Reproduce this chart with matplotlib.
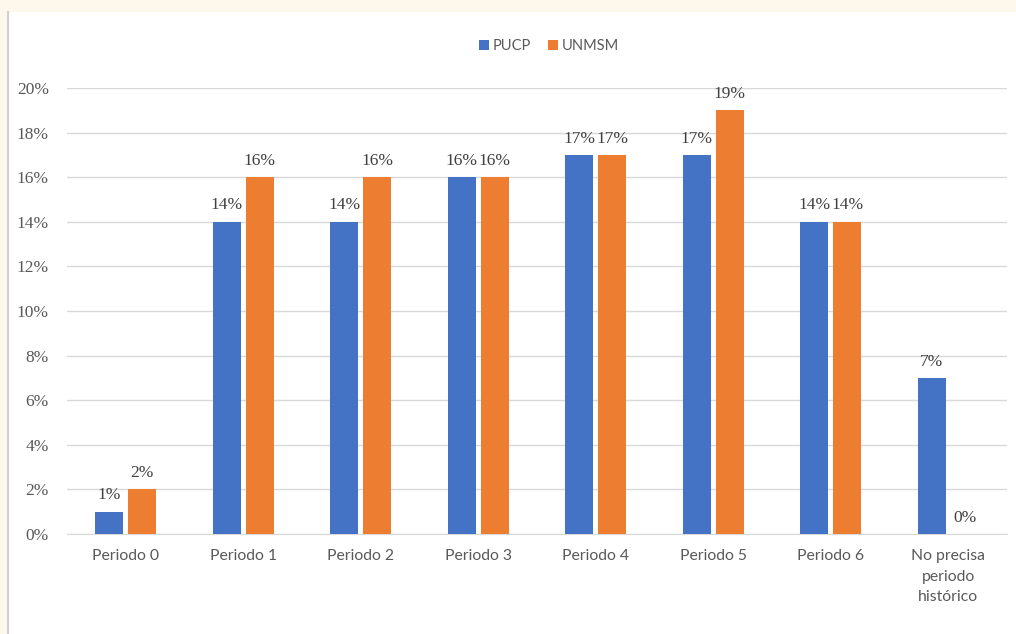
import numpy as np
import matplotlib.pyplot as plt
from matplotlib.patches import Rectangle
from matplotlib.lines import Line2D

# Data
categories = ["Periodo 0", "Periodo 1", "Periodo 2", "Periodo 3", "Periodo 4",
              "Periodo 5", "Periodo 6", "No precisa\nperiodo\nhistórico"]
pucp = [1, 14, 14, 16, 17, 17, 14, 7]
unmsm = [2, 16, 16, 16, 17, 19, 14, 0]
series_names = ["PUCP", "UNMSM"]
colors = ["#4472C4", "#ED7D31"]

fig = plt.figure(figsize=(10.16, 6.34), dpi=100)
fig.patch.set_facecolor("#FEF7EB")
# white chart panel with a thin grey left edge
fig.patches.append(Rectangle((8 / 1016, 0), 1, 622 / 634, transform=fig.transFigure,
                             facecolor="white", edgecolor="none", zorder=-10))
fig.lines.append(Line2D([7.5 / 1016, 7.5 / 1016], [0, 622 / 634], transform=fig.transFigure,
                        color="#D0D0D0", lw=1.5, zorder=-9))

ax = fig.add_axes([67 / 1016, 100 / 634, 940 / 1016, 446 / 634])
ax.set_facecolor("none")

x = np.arange(len(categories))
w = 0.235
off = 0.14
vals_p = np.array(pucp) / 100
vals_u = np.array(unmsm) / 100
bp = ax.bar(x - off, vals_p, w, color=colors[0], label=series_names[0], zorder=3)
bu = ax.bar(x + off, vals_u, w, color=colors[1], label=series_names[1], zorder=3)

for bars, vals in ((bp, pucp), (bu, unmsm)):
    for b, v in zip(bars, vals):
        ax.annotate(f"{v}%", (b.get_x() + b.get_width() / 2, b.get_height()),
                    xytext=(0, 6), textcoords="offset points", ha="center", va="bottom",
                    fontsize=12.5, color="#404040", family="Liberation Serif")

ax.set_xlim(-0.5, len(categories) - 0.5)
ax.set_ylim(0, 0.20)
ax.set_yticks(np.arange(0, 0.21, 0.02))
ax.set_yticklabels([f"{int(round(t * 100))}%" for t in np.arange(0, 0.21, 0.02)],
                   family="Liberation Serif", fontsize=12.5, color="#595959")
ax.set_xticks(x)
ax.set_xticklabels(categories, family="Lato", fontsize=11.3, color="#595959",
                   linespacing=1.6)
ax.tick_params(axis="both", length=0)
ax.tick_params(axis="y", pad=13)
ax.tick_params(axis="x", pad=11)
ax.grid(axis="y", color="#D9D9D9", lw=1, zorder=0)
for s in ["top", "right", "left"]:
    ax.spines[s].set_visible(False)
ax.spines["bottom"].set_color("#D9D9D9")

leg = fig.legend(handles=[bp, bu], loc="center", bbox_to_anchor=(549 / 1016, 1 - 46 / 634),
                 ncol=2, frameon=False, prop={"family": "Lato", "size": 10.5},
                 handlelength=0.7, handleheight=0.7, handletextpad=0.25, columnspacing=1.2)
for t in leg.get_texts():
    t.set_color("#595959")

fig.savefig("out.png", dpi=100)
